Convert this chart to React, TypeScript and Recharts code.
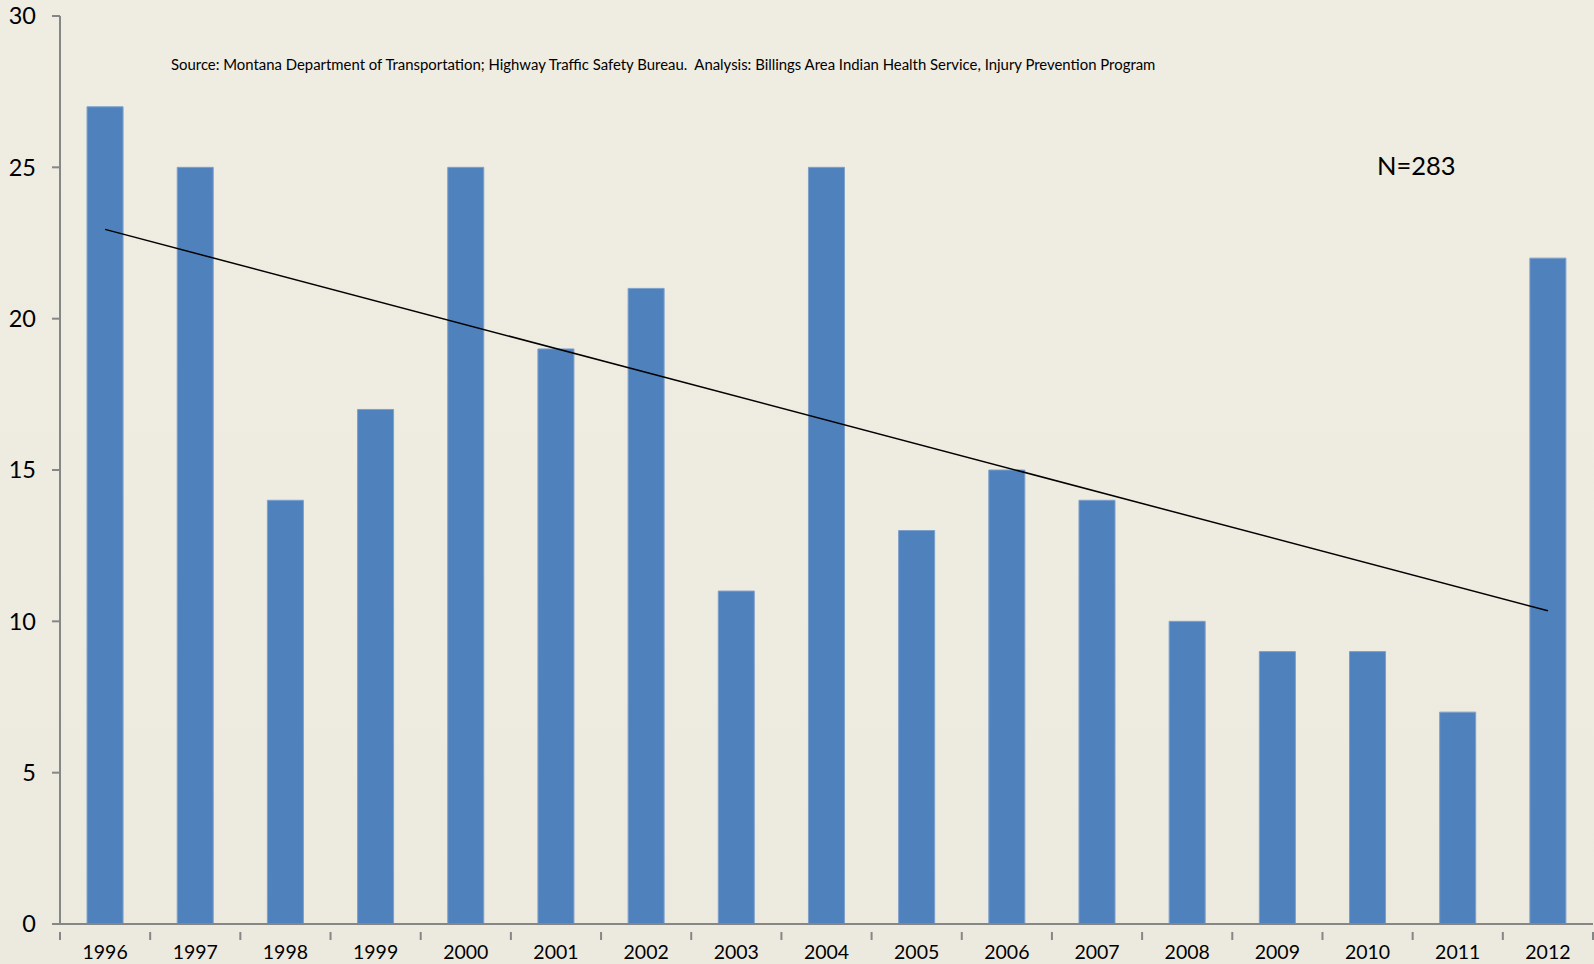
import { ComposedChart, Bar, Line, XAxis, YAxis } from 'recharts'

const years = ['1996', '1997', '1998', '1999', '2000', '2001', '2002', '2003', '2004', '2005', '2006', '2007', '2008', '2009', '2010', '2011', '2012']
const deaths = [27, 25, 14, 17, 25, 19, 21, 11, 25, 13, 15, 14, 10, 9, 9, 7, 22]
// linear trendline endpoints
const trend = [22.95, null, null, null, null, null, null, null, null, null, null, null, null, null, null, null, 10.35]
const yTicks = [0, 5, 10, 15, 20, 25, 30]

const W = 1594
const H = 964
const MARGIN = { top: 16, right: 1, left: 10, bottom: 0 }
const Y_WIDTH = 50
const PLOT_W = W - MARGIN.left - MARGIN.right - Y_WIDTH
const BAND = PLOT_W / years.length

const FONT = 'Lato, "Open Sans", sans-serif'
const AXIS = '#868686'

const chartData = years.map((year, i) => ({
  year,
  deaths: deaths[i],
  trend: trend[i],
}))

function YearTick(props: any) {
  const { x, y, payload, index } = props
  const left = x - BAND / 2
  const right = x + BAND / 2
  return (
    <g>
      <line x1={left} x2={left} y1={y} y2={y + 8} stroke={AXIS} strokeWidth={2} />
      {index === years.length - 1 && (
        <line x1={right} x2={right} y1={y} y2={y + 8} stroke={AXIS} strokeWidth={2} />
      )}
      <text x={x} y={y + 27} textAnchor="middle" fontSize={19.5} fontFamily={FONT} fill="#000">
        {payload.value}
      </text>
    </g>
  )
}

export default function App() {
  return (
    <div
      style={{
        position: 'fixed',
        left: 0,
        top: 0,
        width: W,
        height: H,
        background: 'linear-gradient(180deg, #EFECE2 0%, #EEEBE1 60%, #ECE9DE 100%)',
        fontFamily: FONT,
      }}
    >
      <div
        style={{
          position: 'absolute',
          left: 171,
          top: 55,
          fontSize: 14.9,
          color: '#000',
          whiteSpace: 'pre',
        }}
      >
        Source: Montana Department of Transportation; Highway Traffic Safety Bureau.  Analysis: Billings Area Indian Health Service, Injury Prevention Program
      </div>
      <div
        style={{
          position: 'absolute',
          left: 1377,
          top: 150,
          fontSize: 25.5,
          color: '#000',
        }}
      >
        N=283
      </div>
      <ComposedChart width={W} height={H} data={chartData} margin={MARGIN} barCategoryGap="30%">
        <XAxis
          dataKey="year"
          height={40}
          stroke={AXIS}
          axisLine={{ stroke: AXIS, strokeWidth: 2 }}
          tickLine={false}
          tick={<YearTick />}
          interval={0}
        />
        <YAxis
          width={Y_WIDTH}
          domain={[0, 30]}
          ticks={yTicks}
          interval={0}
          axisLine={{ stroke: AXIS, strokeWidth: 2 }}
          tickLine={{ stroke: AXIS, strokeWidth: 2 }}
          tickSize={8}
          tickMargin={16}
          tick={{ fontSize: 23.5, fontFamily: FONT, fill: '#000' }}
        />
        <Bar dataKey="deaths" fill="#4F81BD" stroke="#7D9FCB" strokeWidth={1} isAnimationActive={false} />
        <Line
          dataKey="trend"
          type="linear"
          stroke="#000"
          strokeWidth={1.5}
          dot={false}
          activeDot={false}
          connectNulls
          isAnimationActive={false}
        />
      </ComposedChart>
    </div>
  )
}
